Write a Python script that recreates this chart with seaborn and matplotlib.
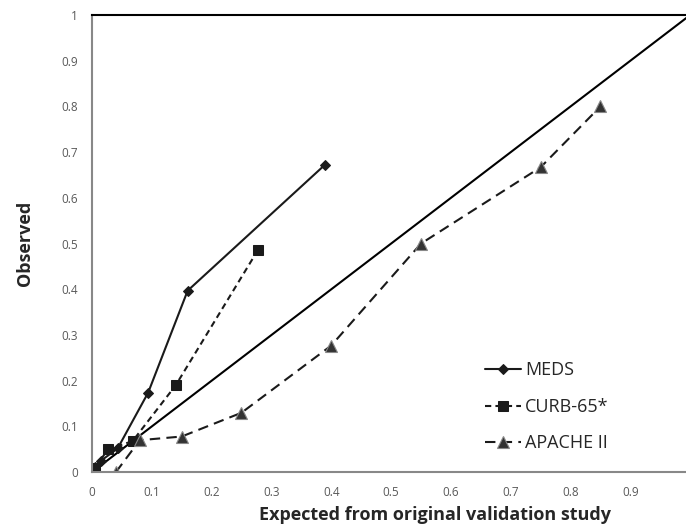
import matplotlib
matplotlib.use("Agg")
import matplotlib.pyplot as plt
import seaborn as sns
import pandas as pd

meds_x = [0.005, 0.015, 0.043, 0.094, 0.160, 0.390]
meds_y = [0.012, 0.025, 0.052, 0.174, 0.397, 0.673]
curb_x = [0.005, 0.027, 0.068, 0.140, 0.278]
curb_y = [0.010, 0.050, 0.068, 0.190, 0.487]
apache_x = [0.040, 0.080, 0.150, 0.250, 0.400, 0.550, 0.750, 0.850]
apache_y = [0.000, 0.070, 0.078, 0.130, 0.277, 0.500, 0.667, 0.800]
diag = [0.0, 1.0]
xticks = [0, 0.1, 0.2, 0.3, 0.4, 0.5, 0.6, 0.7, 0.8, 0.9]
yticks = [0, 0.1, 0.2, 0.3, 0.4, 0.5, 0.6, 0.7, 0.8, 0.9, 1.0]
ytick_labels = ["0", "0.1", "0.2", "0.3", "0.4", "0.5", "0.6", "0.7", "0.8", "0.9", "1"]
xtick_labels = ["0", "0.1", "0.2", "0.3", "0.4", "0.5", "0.6", "0.7", "0.8", "0.9"]

sns.set_style("white")
plt.rcParams["font.family"] = ["Open Sans", "DejaVu Sans"]

fig = plt.figure(figsize=(6.86, 5.27), dpi=100)
ax = fig.add_axes([0.134, 0.104, 0.866, 0.8675])

sns.lineplot(x=diag, y=diag, ax=ax, color="black", lw=1.5, sort=False)
sns.lineplot(x=meds_x, y=meds_y, ax=ax, color="#1a1a1a", lw=1.5, marker="D",
             markersize=5.5, markeredgecolor="#1a1a1a", sort=False, label="MEDS")
sns.lineplot(x=curb_x, y=curb_y, ax=ax, color="#1a1a1a", lw=1.5, marker="s",
             markersize=7.5, markeredgecolor="#1a1a1a", sort=False, label="CURB-65*",
             linestyle=(0, (3, 2)))
sns.lineplot(x=apache_x, y=apache_y, ax=ax, color="#1a1a1a", lw=1.5, marker="^",
             markersize=8, markerfacecolor="#333333", markeredgecolor="#888888",
             markeredgewidth=0.8, sort=False, label="APACHE II",
             linestyle=(0, (5, 3)))

ax.set_xlim(0, 0.993)
ax.set_ylim(0, 1.0)
ax.set_xticks(xticks)
ax.set_xticklabels(xtick_labels)
ax.set_yticks(yticks)
ax.set_yticklabels(ytick_labels)
ax.tick_params(axis="both", direction="out", length=4, width=1, color="#888888",
               labelsize=8.5, labelcolor="#595959", pad=6)
ax.tick_params(axis="x", pad=6)

for s in ["left", "bottom"]:
    ax.spines[s].set_color("#888888")
    ax.spines[s].set_linewidth(1.5)
ax.spines["right"].set_visible(False)
ax.spines["top"].set_color("black")
ax.spines["top"].set_linewidth(1.5)

ax.set_xlabel("Expected from original validation study", fontsize=13, fontweight="bold",
              color="#262626")
ax.xaxis.set_label_coords(0.578, -0.074)
ax.set_ylabel("Observed", fontsize=13, fontweight="bold", color="#262626", labelpad=20)

leg = ax.legend(loc="lower right", bbox_to_anchor=(0.897, 0.008), frameon=False,
                fontsize=13, handlelength=2.0, handletextpad=0.2, labelspacing=1.02)
for t in leg.get_texts():
    t.set_color("#262626")

fig.savefig("out.png", dpi=100)
